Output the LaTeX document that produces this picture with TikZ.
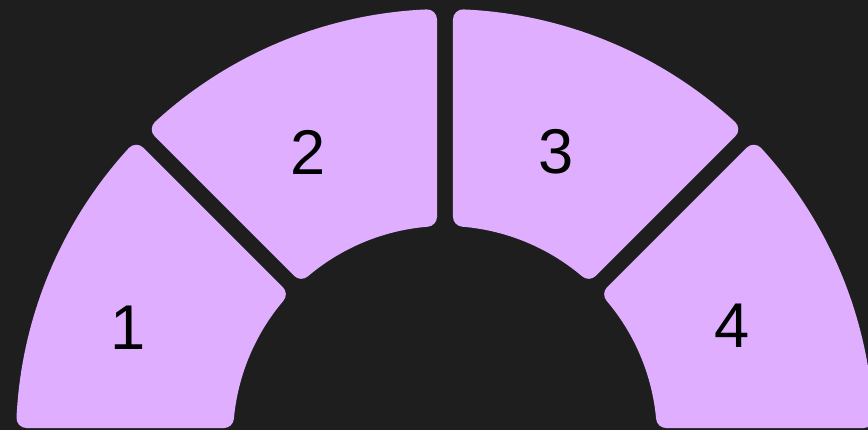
\documentclass[tikz,border=0pt]{standalone}
\usepackage{fontspec}
\setmainfont{Liberation Sans}
\definecolor{lilac}{HTML}{DFAEFE}
\definecolor{bg}{HTML}{1E1E1E}

\begin{document}
\begin{tikzpicture}[x=0.02cm,y=0.02cm,
  segfill/.style={fill=lilac,draw=lilac,line width=0.4cm,line join=round},
  num/.style={inner sep=0pt,font=\fontsize{36}{40}\selectfont}]
\def\R{419}
\def\r{222}
% #1 low angle, #2 high angle, #3/#4 edge offsets
\def\seg#1#2#3#4{\fill[segfill] ({#1+asin(#3/\R)}:\R)
  arc[start angle={#1+asin(#3/\R)},end angle={#2-asin(#4/\R)},radius=\R]
  -- ({#2-asin(#4/\r)}:\r)
  arc[start angle={#2-asin(#4/\r)},end angle={#1+asin(#3/\r)},radius=\r] -- cycle;}
\fill[bg] (-445,8) rectangle (423,438);
\clip (-445,8) rectangle (423,438);

\seg{135}{180}{18}{20}
\seg{90}{135}{18}{18}
\seg{45}{90}{18}{18}
\seg{0}{45}{20}{18}

\node[num] (n1) at (-317,110) {1};
\node[num] (n2) at (-137,286) {2};
\node[num] (n3) at (111,286) {3};
\node[num] (n4) at (287,112) {4};
\end{tikzpicture}
\end{document}
